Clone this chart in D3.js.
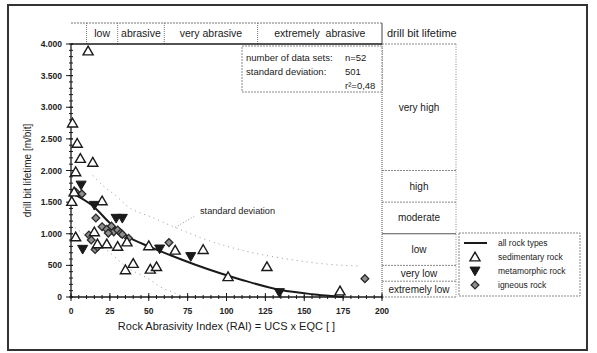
<!DOCTYPE html>
<html>
<head>
<meta charset="utf-8">
<script src="https://cdn.jsdelivr.net/npm/d3@7"></script>
<style>
  body { margin: 0; background: #fff; }
  svg { display: block; font-family: "Liberation Sans", Arial, sans-serif; }
</style>
</head>
<body>
<svg id="chart" width="597" height="353"></svg>
<script>
// Drill bit lifetime vs. Rock Abrasivity Index
const sedimentary = [
  [11, 3890], [1, 2750], [4, 2430], [6, 2190], [14, 2130], [3, 1980],
  [2, 1660], [0.5, 1510], [20, 1520], [3, 950], [15, 1030], [17, 840],
  [23, 840], [30, 800], [36, 870], [35, 430], [40, 530], [51, 440],
  [55, 480], [50, 810], [67, 740], [85, 750], [101, 320], [126, 480], [173, 95]
];
const metamorphic = [
  [6.5, 1770], [15, 1450], [29, 1245], [33, 1245], [7.5, 755], [57, 760],
  [77, 640], [134, 70]
];
const igneous = [
  [3, 1660], [7, 1630], [16, 1250], [20, 1110], [23, 1070], [26, 1120],
  [27.5, 1030], [30, 1060], [32, 1010], [24, 1010], [33, 990], [11.5, 980],
  [13, 900], [15.5, 750], [17, 790], [37, 930], [63, 860], [189, 290]
];
// regression curve for all rock types and its ± standard deviation band
const trend = [[0, 1650], [15, 1420], [25, 1170], [36, 960], [50, 800], [64, 660],
  [80, 510], [96, 375], [110, 270], [135, 110], [155, 45], [170, 12], [175, 0]];
const upperDev = [[14, 1920], [22, 1730], [29, 1600], [35, 1460], [53, 1250], [66, 1110],
  [90, 880], [109, 745], [143, 585], [169, 510], [186, 490]];
const lowerDev = [[0, 1150], [10, 960], [23, 740], [36, 470], [51, 270], [57, 165],
  [67, 60], [72, 0]];

// abrasiveness classes along the x axis
const abrasClasses = [
  { from: 10, to: 30, label: "low" },
  { from: 30, to: 60, label: "abrasive" },
  { from: 60, to: 120, label: "very abrasive" },
  { from: 120, to: 200, label: "extremely  abrasive" }
];
// lifetime classes along the y axis
const lifeClasses = [
  { from: 2000, to: 4000, label: "very high" },
  { from: 1500, to: 2000, label: "high" },
  { from: 1000, to: 1500, label: "moderate" },
  { from: 500, to: 1000, label: "low" },
  { from: 250, to: 500, label: "very low" },
  { from: 0, to: 250, label: "extremely low" }
];
const xTicks = [0, 25, 50, 75, 100, 125, 150, 175, 200];
const yTicks = [0, 500, 1000, 1500, 2000, 2500, 3000, 3500, 4000];
const statsLines = [
  ["number of data sets:", "n=52"],
  ["standard deviation:", "501"],
  ["", "r²=0,48"]
];
const legendItems = ["all rock types", "sedimentary rock", "metamorphic rock", "igneous rock"];

const svg = d3.select("#chart");
const x = d3.scaleLinear().domain([0, 200]).range([71, 382]);
const y = d3.scaleLinear().domain([0, 4000]).range([297, 44]);
const de = d3.formatLocale({ decimal: ",", thousands: ".", grouping: [3], currency: ["", ""] });
const fmt = de.format(",d");
const ink = "#1a1a1a";

// outer frame
svg.append("rect").attr("x", 8).attr("y", 5).attr("width", 579).attr("height", 345)
  .attr("fill", "none").attr("stroke", "#333").attr("stroke-width", 2);

// header with abrasiveness classes
const hdrTop = 23, hdrBot = y(4000);
svg.append("line").attr("x1", x(0)).attr("x2", x(200)).attr("y1", hdrTop).attr("y2", hdrTop)
  .attr("stroke", "#777").attr("stroke-dasharray", "2,1");
abrasClasses.forEach(c => {
  svg.append("line").attr("x1", x(c.from)).attr("x2", x(c.from)).attr("y1", hdrTop).attr("y2", hdrBot)
    .attr("stroke", "#777").attr("stroke-dasharray", "1,1");
  svg.append("text").attr("x", (x(c.from) + x(c.to)) / 2).attr("y", 37)
    .attr("text-anchor", "middle").attr("font-size", 10.5).attr("fill", ink)
    .attr("xml:space", "preserve").text(c.label);
});
svg.append("line").attr("x1", x(200)).attr("x2", x(200)).attr("y1", hdrTop).attr("y2", hdrBot)
  .attr("stroke", "#444");
svg.append("text").attr("x", 387).attr("y", 37).attr("font-size", 11).attr("fill", ink)
  .text("drill bit lifetime");

// lifetime class table on the right
const tblR = 456;
svg.append("line").attr("x1", x(200)).attr("x2", tblR).attr("y1", y(4000)).attr("y2", y(4000))
  .attr("stroke", "#888").attr("stroke-dasharray", "2,1");
svg.append("line").attr("x1", tblR).attr("x2", tblR).attr("y1", y(4000)).attr("y2", y(0))
  .attr("stroke", "#888").attr("stroke-dasharray", "1,1.5");
lifeClasses.forEach(c => {
  if (c.from > 0) {
    svg.append("line").attr("x1", x(200)).attr("x2", tblR).attr("y1", y(c.from)).attr("y2", y(c.from))
      .attr("stroke", c.from === 1000 ? "#555" : "#888")
      .attr("stroke-dasharray", c.from === 1000 ? null : "2,1");
  }
  svg.append("text").attr("x", (x(200) + tblR) / 2).attr("y", (y(c.from) + y(c.to)) / 2 + 3.5)
    .attr("text-anchor", "middle").attr("font-size", 10).attr("fill", ink).text(c.label);
});
svg.append("line").attr("x1", x(200)).attr("x2", tblR).attr("y1", y(0)).attr("y2", y(0))
  .attr("stroke", "#888").attr("stroke-dasharray", "2,1");

// plot frame: solid top, dotted right
svg.append("line").attr("x1", x(0)).attr("x2", x(200)).attr("y1", y(4000)).attr("y2", y(4000))
  .attr("stroke", ink).attr("stroke-width", 1.6);
svg.append("line").attr("x1", x(200)).attr("x2", x(200)).attr("y1", y(4000)).attr("y2", y(0))
  .attr("stroke", "#555").attr("stroke-dasharray", "1,1");

// axes
const gx = svg.append("g").attr("transform", `translate(0,${y(0)})`);
gx.append("line").attr("x1", x(0)).attr("x2", x(200)).attr("stroke", ink).attr("stroke-width", 1.3);
gx.selectAll(".minor").data(d3.range(0, 201, 5)).join("line")
  .attr("x1", d => x(d)).attr("x2", d => x(d)).attr("y1", -2).attr("y2", 2)
  .attr("stroke", ink);
gx.selectAll(".major").data(xTicks).join("line")
  .attr("x1", d => x(d)).attr("x2", d => x(d)).attr("y1", -4).attr("y2", 4)
  .attr("stroke", ink);
gx.selectAll("text").data(xTicks).join("text")
  .attr("x", d => x(d)).attr("y", 17).attr("text-anchor", "middle")
  .attr("font-size", 8.5).attr("font-weight", "bold").attr("fill", "#222").text(d => d);

const gy = svg.append("g").attr("transform", `translate(${x(0)},0)`);
gy.append("line").attr("y1", y(0)).attr("y2", y(4000)).attr("stroke", ink).attr("stroke-width", 1.3);
gy.selectAll(".minor").data(d3.range(0, 4001, 100)).join("line")
  .attr("y1", d => y(d)).attr("y2", d => y(d)).attr("x1", -2).attr("x2", 2)
  .attr("stroke", ink);
gy.selectAll(".major").data(yTicks).join("line")
  .attr("y1", d => y(d)).attr("y2", d => y(d)).attr("x1", -5).attr("x2", 2)
  .attr("stroke", ink);
gy.selectAll("text").data(yTicks).join("text")
  .attr("x", -9).attr("y", d => y(d) + 3).attr("text-anchor", "end")
  .attr("font-size", 8.5).attr("font-weight", "bold").attr("fill", "#222").text(d => fmt(d));

svg.append("text").attr("x", (x(0) + x(200)) / 2).attr("y", 330).attr("text-anchor", "middle")
  .attr("font-size", 11).attr("fill", ink).text("Rock Abrasivity Index (RAI) = UCS x EQC [ ]");
svg.append("text").attr("transform", `translate(31,${(y(0) + y(4000)) / 2}) rotate(-90)`)
  .attr("text-anchor", "middle").attr("font-size", 10).attr("fill", ink)
  .text("drill bit lifetime [m/bit]");

// statistics box
svg.append("rect").attr("x", 242).attr("y", 46).attr("width", x(200) - 242).attr("height", 46)
  .attr("fill", "#fff").attr("stroke", "#888").attr("stroke-dasharray", "2,1");
statsLines.forEach((l, i) => {
  svg.append("text").attr("x", 246).attr("y", 61 + i * 14).attr("font-size", 9.5).attr("fill", ink).text(l[0]);
  svg.append("text").attr("x", 345).attr("y", 61 + i * 14).attr("font-size", 9.5).attr("fill", ink).text(l[1]);
});

// standard deviation band
const line = d3.line().x(d => x(d[0])).y(d => y(d[1])).curve(d3.curveMonotoneX);
[upperDev, lowerDev].forEach(s => {
  svg.append("path").attr("d", line(s)).attr("fill", "none")
    .attr("stroke", "#999").attr("stroke-width", 1).attr("stroke-dasharray", "1,4");
});
svg.append("line").attr("x1", x(67)).attr("y1", y(1100)).attr("x2", 195).attr("y2", 216)
  .attr("stroke", "#999").attr("stroke-dasharray", "1,2");
svg.append("text").attr("x", 200).attr("y", 214).attr("font-size", 9.2).attr("fill", ink)
  .text("standard deviation");

// regression curve
svg.append("path").attr("d", line(trend)).attr("fill", "none")
  .attr("stroke", ink).attr("stroke-width", 2);

// data points
const triUp = d3.symbol().type(d3.symbolTriangle).size(44);
const square = d3.symbol().type(d3.symbolSquare).size(30);
function drawSed(g, px, py) {
  g.append("path").attr("d", triUp()).attr("transform", `translate(${px},${py + 1})`)
    .attr("fill", "#fff").attr("stroke", ink).attr("stroke-width", 1.4);
}
function drawMeta(g, px, py) {
  g.append("path").attr("d", triUp()).attr("transform", `translate(${px},${py - 1}) rotate(180)`)
    .attr("fill", ink).attr("stroke", ink).attr("stroke-width", 1);
}
function drawIgn(g, px, py) {
  g.append("path").attr("d", square()).attr("transform", `translate(${px},${py}) rotate(45)`)
    .attr("fill", "#8f8f8f").attr("stroke", "#2a2a2a").attr("stroke-width", 1.3);
}
const pts = svg.append("g");
igneous.forEach(d => drawIgn(pts, x(d[0]), y(d[1])));
sedimentary.forEach(d => drawSed(pts, x(d[0]), y(d[1])));
metamorphic.forEach(d => drawMeta(pts, x(d[0]), y(d[1])));

// legend
const lg = svg.append("g");
lg.append("rect").attr("x", 459).attr("y", 233).attr("width", 121).attr("height", 63)
  .attr("fill", "#fff").attr("stroke", "#888").attr("stroke-dasharray", "2,1");
const ly = [243, 257, 271, 285];
lg.append("line").attr("x1", 464).attr("x2", 487).attr("y1", ly[0]).attr("y2", ly[0])
  .attr("stroke", ink).attr("stroke-width", 2);
drawSed(lg, 475, ly[1]);
drawMeta(lg, 475, ly[2]);
drawIgn(lg, 475, ly[3]);
legendItems.forEach((t, i) => {
  lg.append("text").attr("x", 498).attr("y", ly[i] + 3).attr("font-size", 8.5).attr("fill", ink).text(t);
});
</script>
</body>
</html>
